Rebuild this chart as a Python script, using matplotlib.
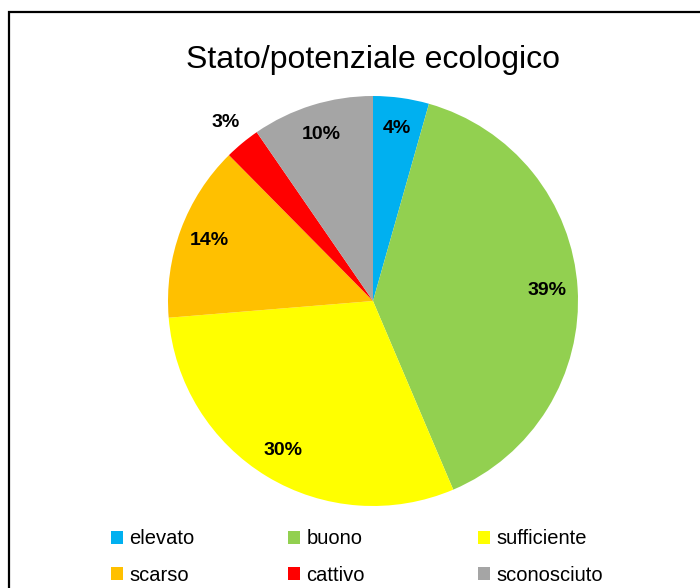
import matplotlib
matplotlib.use("Agg")
import matplotlib.pyplot as plt
from matplotlib.patches import Rectangle, Patch
import numpy as np

categories = ["elevato", "buono", "sufficiente", "scarso", "cattivo", "sconosciuto"]
values = [4.4, 39.2, 30.1, 13.9, 2.8, 9.6]
colors = ["#00B0F0", "#92D050", "#FFFF00", "#FFC000", "#FF0000", "#A5A5A5"]
title = "Stato/potenziale ecologico"

plt.rcParams['font.family'] = ['Liberation Sans', 'DejaVu Sans']

fig = plt.figure(figsize=(7, 5.88), dpi=100)
fig.patch.set_facecolor("white")

# frame (cut at right/bottom)
fig.patches.append(Rectangle((9/700, -0.1), 1.2, (588-12)/588 + 0.1,
                             transform=fig.transFigure, fill=False,
                             edgecolor="black", linewidth=1.6))

ax = fig.add_axes([(373-205)/700, (588-301-205)/588, 410/700, 410/588])
wedges, texts, autotexts = ax.pie(values, colors=colors, startangle=90,
                                  counterclock=False, autopct='%.0f%%',
                                  pctdistance=0.85,
                                  wedgeprops=dict(linewidth=0),
                                  textprops=dict(fontsize=14, fontweight='bold', color='black'))
# small slice label placed outside (best fit)
for w, t, v in zip(wedges, autotexts, values):
    if v < 3.5:
        ang = np.deg2rad((w.theta1 + w.theta2) / 2)
        t.set_position((1.13 * np.cos(ang), 1.13 * np.sin(ang)))
ax.set_xlim(-1, 1)
ax.set_ylim(-1, 1)
ax.set_aspect('equal')
ax.axis('off')

fig.text(373/700, 1 - 60/588, title, ha='center', va='center', fontsize=23)

# legend: 3 columns x 2 rows, row-major order
col_x = [111, 288, 478]
ymid = 1 - 557/588
for c in range(3):
    idx = [c, c + 3]
    hs = [Patch(facecolor=colors[i], edgecolor='none') for i in idx]
    fig.legend(hs, [categories[i] for i in idx], loc='center left',
               bbox_to_anchor=(col_x[c]/700, ymid), frameon=False, fontsize=14.5,
               handlelength=0.62, handleheight=0.62, handletextpad=0.3,
               borderpad=0, borderaxespad=0, labelspacing=0.85)

fig.savefig("out.png", dpi=100, facecolor="white")
